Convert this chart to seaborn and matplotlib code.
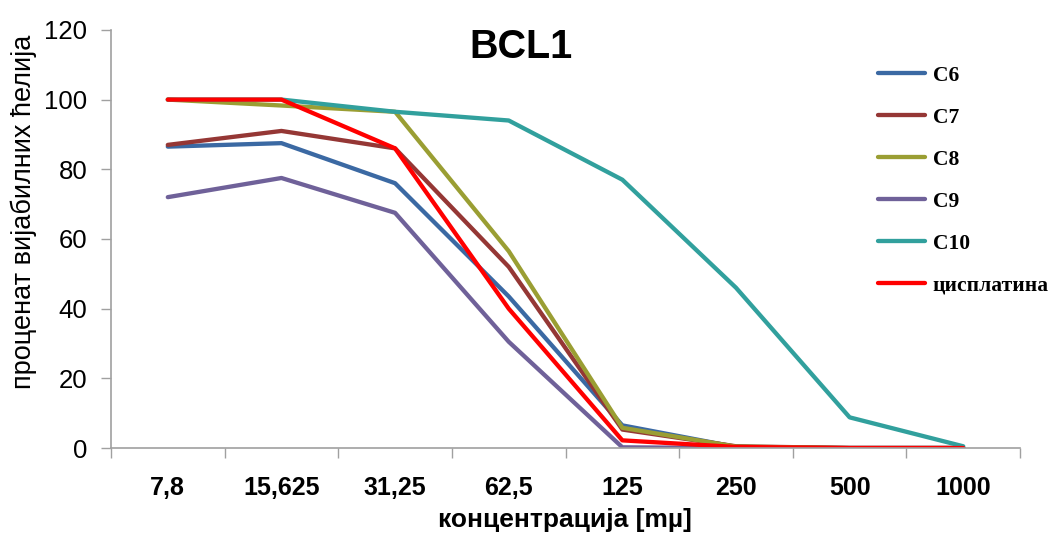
import pandas as pd
import seaborn as sns
import matplotlib.pyplot as plt
from matplotlib import font_manager
from matplotlib.ticker import FixedLocator

concentrations = ["7,8", "15,625", "31,25", "62,5", "125", "250", "500", "1000"]
c6 = [86.5, 87.5, 76, 43.5, 6.5, 0.3, 0, 0]
c7 = [87, 91, 86, 52, 5.3, 0.5, 0, 0]
c8 = [100, 98.3, 96.5, 56.5, 5.8, 0.4, 0, 0]
c9 = [72, 77.5, 67.5, 30.5, 0.2, 0, 0, 0]
c10 = [100, 100, 96.5, 94, 77, 46, 8.8, 0.5]
cisplatin = [100, 100, 86, 40, 2.2, 0.3, 0, 0]

series = {"C6": c6, "C7": c7, "C8": c8, "C9": c9, "C10": c10, "цисплатина": cisplatin}
colors = ["#3B69A3", "#953735", "#9A9E33", "#6F6199", "#31A09D", "#FF0000"]

rows = []
for name, vals in series.items():
    for conc, v in zip(concentrations, vals):
        rows.append({"conc": conc, "value": v, "series": name})
df = pd.DataFrame(rows)

sns.set_style("white")
installed = {f.name for f in font_manager.fontManager.ttflist}
narrow = "Liberation Sans Narrow" if "Liberation Sans Narrow" in installed else "Liberation Sans"
plt.rcParams["font.family"] = ["Liberation Sans", "DejaVu Sans"]
plt.rcParams["text.color"] = "black"
plt.rcParams["xtick.color"] = "black"
plt.rcParams["ytick.color"] = "black"

fig = plt.figure(figsize=(10.51, 5.34), dpi=100)
ax = fig.add_axes([0.1056, 0.161, 0.865, 0.783])

sns.lineplot(data=df, x="conc", y="value", hue="series", palette=colors,
             linewidth=3.1, ax=ax, legend=True, sort=False)

ax.set_xlim(-0.5, 7.5)
ax.set_ylim(0, 120)
ax.set_yticks(range(0, 121, 20))
ax.set_xticks(range(len(concentrations)))
ax.set_xticklabels(concentrations, fontsize=18, fontweight="bold", family=narrow)
ax.xaxis.set_minor_locator(FixedLocator([i - 0.5 for i in range(len(concentrations) + 1)]))
ax.tick_params(axis="x", which="major", length=0, pad=20, labelcolor="black")
ax.tick_params(axis="x", which="minor", length=7, color="#A0A0A0", width=1, direction="out", bottom=True)
ax.tick_params(axis="y", labelsize=18.5, length=7, color="#A0A0A0", width=1, direction="out",
               left=True, pad=10, labelcolor="black")
for s in ["top", "right"]:
    ax.spines[s].set_visible(False)
for s in ["left", "bottom"]:
    ax.spines[s].set_color("#A0A0A0")
    ax.spines[s].set_linewidth(1.2)
ax.set_xlabel("")
ax.set_ylabel("")

fig.text(24 / 1051, 1 - 212 / 534, "проценат вијабилних ћелија", rotation=90,
         fontsize=19.5, ha="center", va="center")
fig.text(565 / 1051, 1 - 520 / 534, "концентрација [mµ]", fontsize=19,
         fontweight="bold", family=narrow, ha="center", va="center")
fig.text(521 / 1051, 1 - 47 / 534, "BCL1", fontsize=28.5, fontweight="bold",
         ha="center", va="center")

ax.get_legend().remove()
handles, labels = ax.get_legend_handles_labels()
fig.legend(handles, labels, loc="upper left", bbox_to_anchor=(869 / 1051, 1 - 57 / 534),
           frameon=False, prop={"family": "Liberation Serif", "weight": "bold", "size": 15.5},
           labelspacing=1.02, handlelength=2.2, handletextpad=0.35, borderaxespad=0)

fig.savefig("out.png", dpi=100)
